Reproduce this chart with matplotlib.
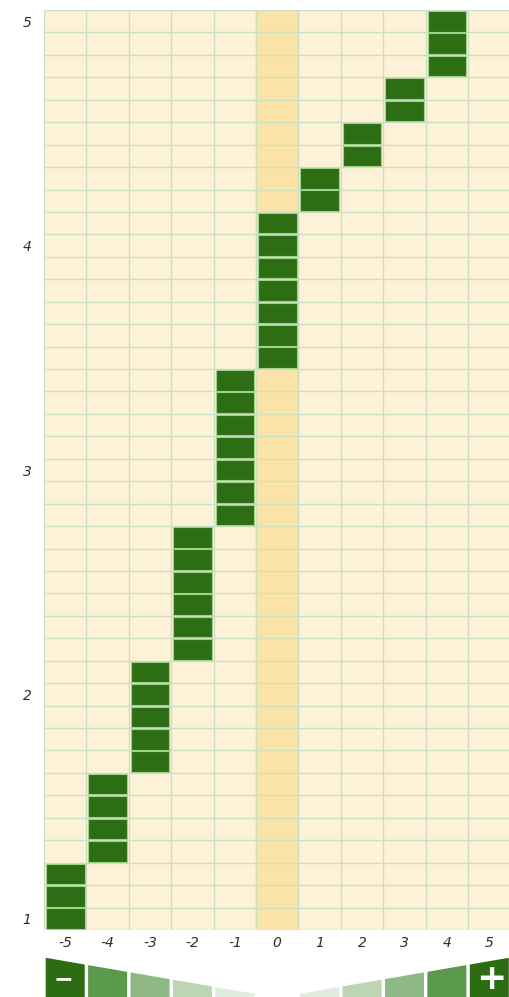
import numpy as np
from matplotlib import pyplot as plt
from matplotlib.patches import Polygon

# Grid columns and how many consecutive rows (from the bottom) land in each one
columns = [-5, -4, -3, -2, -1, 0, 1, 2, 3, 4, 5]
run_lengths = [3, 4, 5, 6, 7, 7, 2, 2, 2, 3, 0]
y_min, y_max, y_step = 1.0, 5.0, 0.1
x_tick_labels = ['-5', '-4', '-3', '-2', '-1', '0', '1', '2', '3', '4', '5']
y_ticks = [1, 2, 3, 4, 5]

# Legend shades, from the outer box toward the middle
legend_shades = ['#2c6d14', '#5b9a4a', '#8fb984', '#bcd5b2', '#e1ebde']

# Colours
cream = '#fdf2d7'
highlight = '#fbe3a7'
grid_col = '#cbdfc2'
cell_green = '#2d6e15'
cell_edge = '#a3cf8c'

if __name__ == "__main__":

    W, H = 510, 997
    fig = plt.figure(figsize=(W / 100, H / 100), dpi=100)

    # Grid axes placed in pixels
    left_px, right_px, top_px, bottom_px = 44, 510.5, 10, 930
    ax = fig.add_axes([left_px / W, (H - bottom_px) / H,
                       (right_px - left_px) / W, (bottom_px - top_px) / H])

    y_levels = np.round(np.arange(y_min, y_max + y_step / 2, y_step), 1)
    x_per_row = np.repeat(columns, run_lengths)

    ax.set_xlim(-5.5, 5.5)
    ax.set_ylim(y_min - y_step / 2, y_max + y_step / 2)
    ax.set_facecolor(cream)

    # Highlight of the zero column
    ax.axvspan(-0.5, 0.5, color=highlight, zorder=0)

    # Grid lines
    for xe in np.arange(-5.5, 6.0, 1.0):
        ax.axvline(xe, color=grid_col, lw=1.0, zorder=1)
    for ye in np.append(y_levels - y_step / 2, y_levels[-1] + y_step / 2):
        ax.axhline(ye, color=grid_col, lw=1.0, zorder=1)

    # Green cells
    ax.bar(x_per_row, y_step * 0.92, bottom=y_levels - y_step * 0.46, width=0.91,
           color=cell_green, edgecolor=cell_edge, linewidth=0.8, zorder=2)

    for s in ax.spines.values():
        s.set_visible(False)
    ax.set_xticks(columns)
    ax.set_xticklabels(x_tick_labels)
    ax.set_yticks(y_ticks)
    ax.set_yticklabels([str(t) for t in y_ticks])
    ax.tick_params(length=0, labelsize=10, labelcolor='#2e2e2e')
    ax.tick_params(axis='x', pad=4)
    ax.tick_params(axis='y', pad=9)
    for lab in ax.get_xticklabels() + ax.get_yticklabels():
        lab.set_style('italic')

    # Legend strip under the grid, sharing the column layout
    leg_top_px = 955
    lax = fig.add_axes([left_px / W, 0, (right_px - left_px) / W, (H - leg_top_px) / H])
    lax.set_xlim(-5.5, 5.5)
    lax.set_ylim(0, H - leg_top_px)
    lax.axis('off')

    def edge_height(x):
        return 3 + 7.3 * (abs(x) - 0.5)

    for side in (-1, 1):
        for k, shade in enumerate(legend_shades):
            centre = side * (5 - k)
            x0, x1 = centre - 0.46, centre + 0.46
            poly = Polygon([(x0, 0), (x1, 0), (x1, edge_height(x1)), (x0, edge_height(x0))],
                           closed=True, facecolor=shade, edgecolor='none')
            lax.add_patch(poly)

    lax.text(-5 - 0.05, 18, '\u2212', color='white', fontsize=17, fontweight='bold',
             ha='center', va='center')
    lax.text(5.05, 18, '+', color='white', fontsize=26, fontweight='bold',
             ha='center', va='center')

    plt.savefig('out.png', dpi=100)
